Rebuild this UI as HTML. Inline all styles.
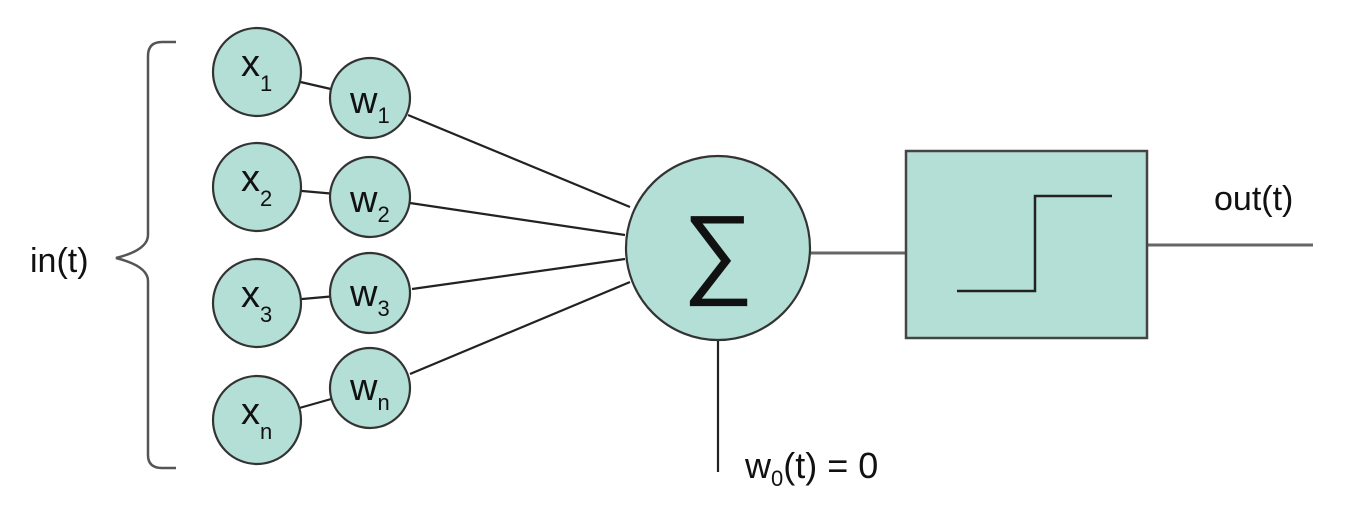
<!DOCTYPE html>
<html><head><meta charset="utf-8"><style>
html,body{margin:0;padding:0;background:#fff;}
svg{display:block;}
text{font-family:"Liberation Sans",sans-serif;fill:#111;}
</style></head><body>
<svg width="1364" height="528" viewBox="0 0 1364 528" xmlns="http://www.w3.org/2000/svg">
<g stroke="#222" stroke-width="2.2" fill="none">
<line x1="257" y1="72" x2="370" y2="98"/>
<line x1="257" y1="187" x2="370" y2="197"/>
<line x1="257" y1="303" x2="370" y2="293"/>
<line x1="257" y1="420" x2="370" y2="388"/>
<line x1="408" y1="115" x2="630" y2="207"/>
<line x1="410" y1="203" x2="625" y2="235"/>
<line x1="412" y1="289" x2="625" y2="259"/>
<line x1="410" y1="374" x2="630" y2="282"/>
<line x1="718" y1="340" x2="718" y2="472"/>
</g>
<g stroke="#666" stroke-width="3" fill="none">
<line x1="810" y1="253" x2="906" y2="253"/>
<line x1="1147" y1="245" x2="1313" y2="245"/>
</g>
<path d="M176 42 H162 Q148 42 148 56 V235 Q148 250 116 258 Q148 266 148 281 V455 Q148 468 162 468 H176" stroke="#555" stroke-width="2.5" fill="none"/>
<g fill="#b3dfd6" stroke="#333" stroke-width="2.2">
<circle cx="257" cy="72" r="44"/>
<circle cx="257" cy="187" r="44"/>
<circle cx="257" cy="303" r="44"/>
<circle cx="257" cy="420" r="44"/>
<circle cx="370" cy="98" r="40"/>
<circle cx="370" cy="197" r="40"/>
<circle cx="370" cy="293" r="40"/>
<circle cx="370" cy="388" r="40"/>
<circle cx="718" cy="248" r="92"/>
<rect x="906" y="151" width="241" height="187" stroke="#444" stroke-width="2.5"/>
</g>
<path d="M957 291 H1035 V196 H1112" stroke="#222" stroke-width="2.5" fill="none"/>
<g font-size="38">
<text x="241" y="76">x<tspan font-size="22" dy="15">1</tspan></text>
<text x="241" y="191">x<tspan font-size="22" dy="15">2</tspan></text>
<text x="241" y="307">x<tspan font-size="22" dy="15">3</tspan></text>
<text x="241" y="424">x<tspan font-size="22" dy="15">n</tspan></text>
<text x="350" y="113">w<tspan font-size="22" dy="10">1</tspan></text>
<text x="350" y="212">w<tspan font-size="22" dy="10">2</tspan></text>
<text x="350" y="306">w<tspan font-size="22" dy="10">3</tspan></text>
<text x="350" y="400">w<tspan font-size="22" dy="10">n</tspan></text>
</g>
<text x="30" y="272" font-size="34">in(t)</text>
<text x="1214" y="210" font-size="34">out(t)</text>
<text x="745" y="478" font-size="36">w<tspan font-size="22" dy="8">0</tspan><tspan dy="-8">(t) = 0</tspan></text>
<text x="718" y="285" font-size="100" text-anchor="middle" font-family="DejaVu Sans,sans-serif">∑</text>
</svg>
</body></html>
